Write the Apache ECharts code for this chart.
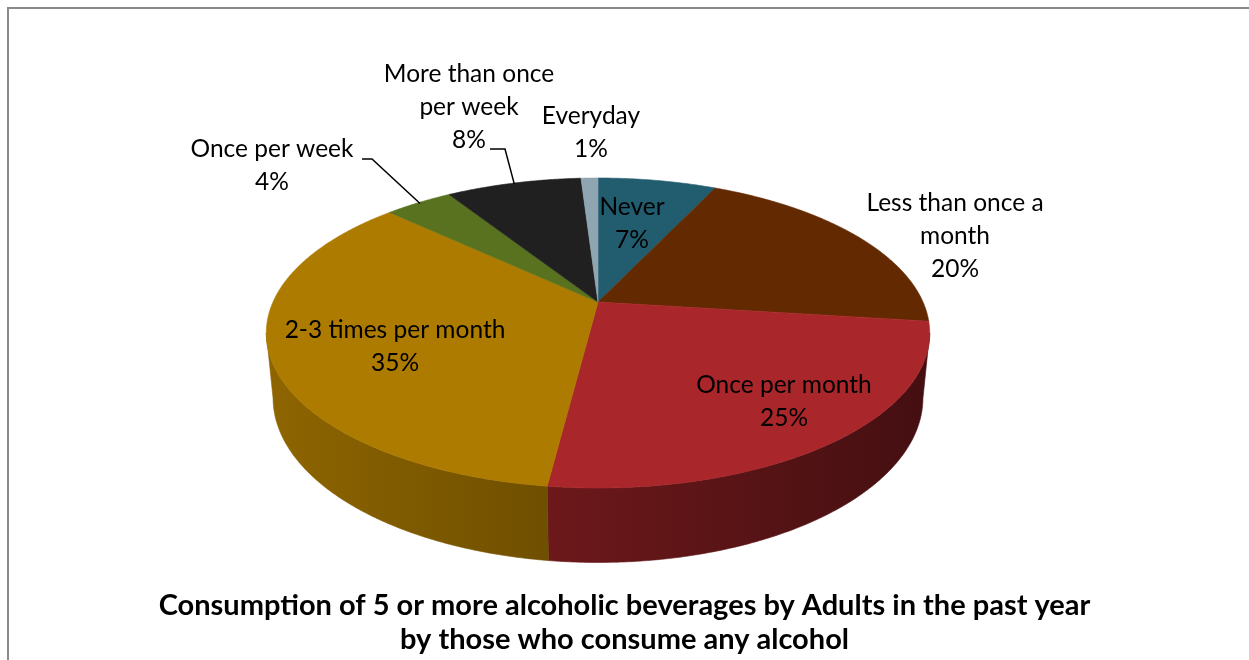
<!DOCTYPE html>
<html>
<head>
<meta charset="utf-8">
<title>Consumption of 5 or more alcoholic beverages</title>
<script src="https://cdn.jsdelivr.net/npm/echarts@6/dist/echarts.min.js"></script>
<style>
  html, body { margin: 0; padding: 0; background: #ffffff; }
  #chart { width: 1249px; height: 660px; }
</style>
</head>
<body>
<div id="chart"></div>
<script>
// Frequency categories, clockwise from 12 o'clock
const categories = ['Never', 'Less than once a month', 'Once per month', '2-3 times per month',
                    'Once per week', 'More than once per week', 'Everyday'];
// Share of adults (%) in each category
const shares = [7, 20, 25, 35, 4, 8, 1];
// Label text lines (category part), as wrapped on the chart
const labelLines = [['Never'], ['Less than once a', 'month'], ['Once per month'], ['2-3 times per month'],
                    ['Once per week'], ['More than once', 'per week'], ['Everyday']];

// Slice colours
const sliceColors = ['#215D6E', '#632A01', '#A9262A', '#AD7B00', '#58721F', '#202020', '#8FA6B2'];

// Tilted-disc projection of the 3D pie
const view = { cx: 598, cy: 302, A: 325, B: 148.8, T: 64.8, k: 0.2, m: 0.02 };
function proj(theta, r, h) {
  const u = r * Math.sin(theta), v = r * Math.cos(theta);
  const w = 1 + view.k * v + view.m * h;
  return [view.cx + view.A * u / w, view.cy + (-view.B * v + view.T * h) / w];
}

// Label block centres and leader-line starts (screen layout)
const labelLayout = [
  { c: [632, 224] },
  { c: [955, 236] },
  { c: [784, 402] },
  { c: [395, 347] },
  { c: [272, 166], leader: [[362, 159], [372, 159]] },
  { c: [469, 107], leader: [[490, 149], [505, 149]] },
  { c: [591, 133] }
];

const total = shares.reduce((a, b) => a + b, 0);
const starts = [], ends = [];
let acc = 0;
shares.forEach((v) => {
  starts.push(2 * Math.PI * acc / total);
  acc += v;
  ends.push(2 * Math.PI * acc / total);
});

// Visible part of the rim (between left and right silhouette)
const sideFrom = Math.acos(-view.k);
const sideTo = 2 * Math.PI - sideFrom;

function shade(hex, f) {
  const n = parseInt(hex.slice(1), 16);
  const r = Math.round(((n >> 16) & 255) * f);
  const g = Math.round(((n >> 8) & 255) * f);
  const b = Math.round((n & 255) * f);
  return 'rgb(' + r + ',' + g + ',' + b + ')';
}

function arcPoints(a0, a1, r, h) {
  const n = Math.max(2, Math.ceil((a1 - a0) / (Math.PI / 360)));
  const pts = [];
  for (let j = 0; j <= n; j++) pts.push(proj(a0 + (a1 - a0) * j / n, r, h));
  return pts;
}

function renderSide(params, api) {
  const i = params.dataIndex;
  const a0 = Math.max(starts[i], sideFrom);
  const a1 = Math.min(ends[i], sideTo);
  if (a1 <= a0) return { type: 'group', children: [] };
  const top = arcPoints(a0, a1, 1, 0);
  const bottom = arcPoints(a0, a1, 1, 1).reverse();
  const left = proj(sideTo, 1, 0)[0], right = proj(sideFrom, 1, 0)[0];
  const grad = {
    type: 'linear', x: left, y: 0, x2: right, y2: 0, global: true,
    colorStops: [
      { offset: 0, color: shade(sliceColors[i], 0.82) },
      { offset: 1, color: shade(sliceColors[i], 0.40) }
    ]
  };
  return {
    type: 'polygon',
    shape: { points: top.concat(bottom) },
    style: { fill: grad, stroke: grad, lineWidth: 0.6 }
  };
}

function renderTop(params, api) {
  const i = params.dataIndex;
  const pts = [proj(0, 0, 0)].concat(arcPoints(starts[i], ends[i], 1, 0));
  return {
    type: 'polygon',
    shape: { points: pts },
    style: { fill: sliceColors[i], stroke: sliceColors[i], lineWidth: 0.6 }
  };
}

function renderLabel(params, api) {
  const i = params.dataIndex;
  const value = api.value(1);
  const lay = labelLayout[i];
  const children = [];
  if (lay.leader) {
    const mid = (starts[i] + ends[i]) / 2;
    const pts = lay.leader.concat([proj(mid, 0.99, 0)]);
    children.push({
      type: 'polyline',
      shape: { points: pts },
      style: { stroke: '#000000', lineWidth: 1.5, fill: null }
    });
  }
  children.push({
    type: 'text',
    x: lay.c[0], y: lay.c[1],
    style: {
      text: labelLines[i].concat([value + '%']).join('\n'),
      fontFamily: 'Lato', fontSize: 24.5, lineHeight: 33,
      fill: '#000000', align: 'center', verticalAlign: 'middle'
    }
  });
  return { type: 'group', children: children };
}

const seriesData = shares.map((v, i) => ({ name: categories[i], value: [i, v] }));

const chart = echarts.init(document.getElementById('chart'), null, { renderer: 'canvas' });
chart.setOption({
  animation: false,
  backgroundColor: '#ffffff',
  title: {
    text: 'Consumption of 5 or more alcoholic beverages by Adults in the past year\nby those who consume any alcohol',
    left: 'center',
    top: 584,
    textStyle: {
      fontFamily: 'Lato', fontWeight: 'bold', fontSize: 29, lineHeight: 34, color: '#000000'
    }
  },
  graphic: [{
    type: 'rect',
    shape: { x: 8, y: 8, width: 1400, height: 800 },
    style: { fill: null, stroke: '#8a8a8a', lineWidth: 2 },
    silent: true
  }],
  series: [
    { type: 'custom', name: 'rim', coordinateSystem: 'none', renderItem: renderSide, data: seriesData, z: 1, silent: true },
    { type: 'custom', name: 'face', coordinateSystem: 'none', renderItem: renderTop, data: seriesData, z: 2, silent: true },
    { type: 'custom', name: 'labels', coordinateSystem: 'none', renderItem: renderLabel, data: seriesData, z: 3, silent: true }
  ]
});
</script>
</body>
</html>
